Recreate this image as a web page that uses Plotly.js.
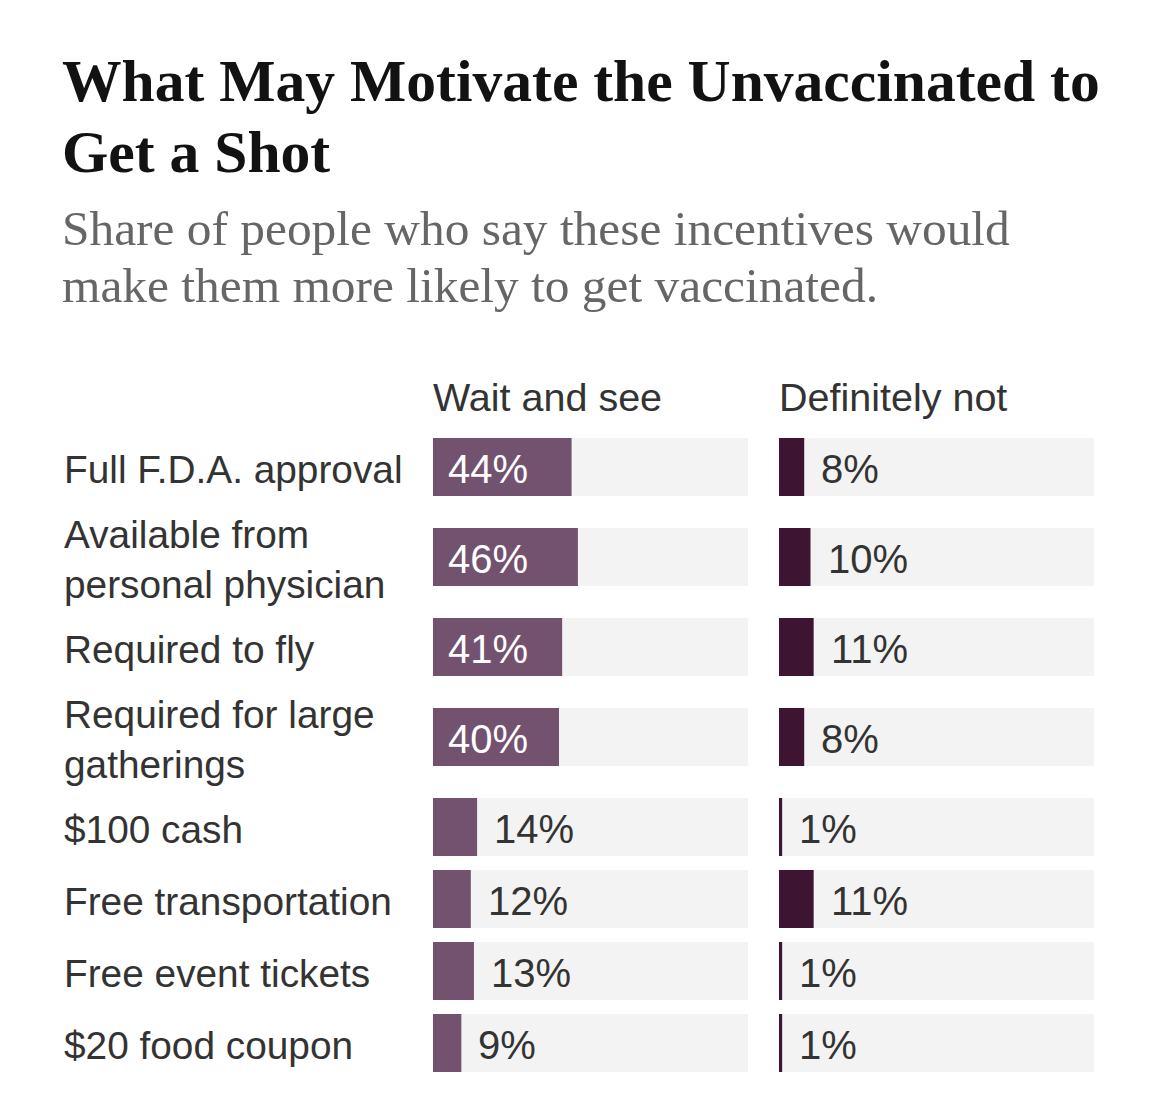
<!DOCTYPE html>
<html>
<head>
<meta charset="utf-8">
<script src="https://cdn.plot.ly/plotly-3.0.1.min.js"></script>
<style>html,body{margin:0;padding:0;background:#fff;}#chart{width:1170px;height:1111px;}</style>
</head>
<body>
<div id="chart"></div>
<script>
// ---- data ----
const categories = [
  "Full F.D.A. approval",
  "Available from<br>personal physician",
  "Required to fly",
  "Required for large<br>gatherings",
  "$100 cash",
  "Free transportation",
  "Free event tickets",
  "$20 food coupon"
];
const waitAndSee = [44, 46, 41, 40, 14, 12, 13, 9];
const definitelyNot = [8, 10, 11, 8, 1, 11, 1, 1];
const groupNames = ["Wait and see", "Definitely not"];
const titleLines = ["What May Motivate the Unvaccinated to", "Get a Shot"];
const subtitleLines = ["Share of people who say these incentives would", "make them more likely to get vaccinated."];

// ---- layout helpers ----
const W = 1170, H = 1111;
const TOP = 431, BOTTOM = 32;
const plotH = H - TOP - BOTTOM;
const paperY = px => (H - BOTTOM - px) / plotH;
const paperX = px => px / W;

// row centers from label line counts
const rowH = categories.map(c => 72 + 36 * (c.split("<br>").length - 1));
const centers = [];
let acc = 0;
rowH.forEach(h => { centers.push(acc + h / 2); acc += h; });
const total = acc;

const sans = "Liberation Sans, Arial, sans-serif";
const serif = "Liberation Serif, Times New Roman, serif";
const purple = "#735270", dark = "#3d1533", gray = "#f3f3f3";

const hundred = categories.map(() => 100);
const traces = [
  {type: "bar", orientation: "h", x: hundred, y: centers, width: 58, marker: {color: gray}, xaxis: "x", yaxis: "y", hoverinfo: "skip"},
  {type: "bar", orientation: "h", x: waitAndSee, y: centers, width: 58, marker: {color: purple}, xaxis: "x", yaxis: "y"},
  {type: "bar", orientation: "h", x: hundred, y: centers, width: 58, marker: {color: gray}, xaxis: "x2", yaxis: "y", hoverinfo: "skip"},
  {type: "bar", orientation: "h", x: definitelyNot, y: centers, width: 58, marker: {color: dark}, xaxis: "x2", yaxis: "y"}
];

const annotations = [];
// titles
const titleBase = [101, 172];
titleLines.forEach((t, i) => annotations.push({
  text: "<b>" + t + "</b>", xref: "paper", yref: "paper", x: paperX(60), y: paperY(titleBase[i] - 0.3375 * 59.6),
  xanchor: "left", yanchor: "middle", showarrow: false, font: {family: serif, size: 59.6, color: "#121212"}
}));
const subBase = [245, 302];
subtitleLines.forEach((t, i) => annotations.push({
  text: t, xref: "paper", yref: "paper", x: paperX(60), y: paperY(subBase[i] - 0.3375 * 49.4),
  xanchor: "left", yanchor: "middle", showarrow: false, font: {family: serif, size: 49.4, color: "#666666"}
}));
// group headers
const headerX = [431, 777];
groupNames.forEach((g, i) => annotations.push({
  text: g, xref: "paper", yref: "paper", x: paperX(headerX[i]), y: paperY(411 - 13.5),
  xanchor: "left", yanchor: "middle", showarrow: false, font: {family: sans, size: 39.5, color: "#333333"}
}));
// category labels
categories.forEach((c, i) => annotations.push({
  text: c, xref: "paper", yref: "y", x: paperX(62), y: centers[i], yshift: -2,
  xanchor: "left", yanchor: "middle", align: "left", showarrow: false,
  font: {family: sans, size: 38.8, color: "#333333"}
}));
// value labels
function valueLabels(vals, xref) {
  vals.forEach((v, i) => {
    const inside = v >= 25;
    annotations.push({
      text: v + "%", xref: xref, yref: "y", x: inside ? 0 : v, y: centers[i],
      xshift: inside ? 13 : 15, yshift: -2,
      xanchor: "left", yanchor: "middle", showarrow: false,
      font: {family: sans, size: 40, color: inside ? "#ffffff" : "#333333"}
    });
  });
}
valueLabels(waitAndSee, "x");
valueLabels(definitelyNot, "x2");

const axisBase = {range: [0, 100], showgrid: false, zeroline: false, showticklabels: false, ticks: "", fixedrange: true};
const layout = {
  width: W, height: H, autosize: false,
  margin: {l: 0, r: 0, t: TOP, b: BOTTOM, pad: 0},
  paper_bgcolor: "#ffffff", plot_bgcolor: "#ffffff",
  barmode: "overlay", showlegend: false,
  xaxis: Object.assign({}, axisBase, {domain: [paperX(433), paperX(748)]}),
  xaxis2: Object.assign({}, axisBase, {domain: [paperX(779), paperX(1094)], anchor: "y"}),
  yaxis: {range: [total, 0], showgrid: false, zeroline: false, showticklabels: false, ticks: "", fixedrange: true},
  annotations: annotations
};

Plotly.newPlot("chart", traces, layout, {displayModeBar: false, staticPlot: true});
</script>
</body>
</html>
